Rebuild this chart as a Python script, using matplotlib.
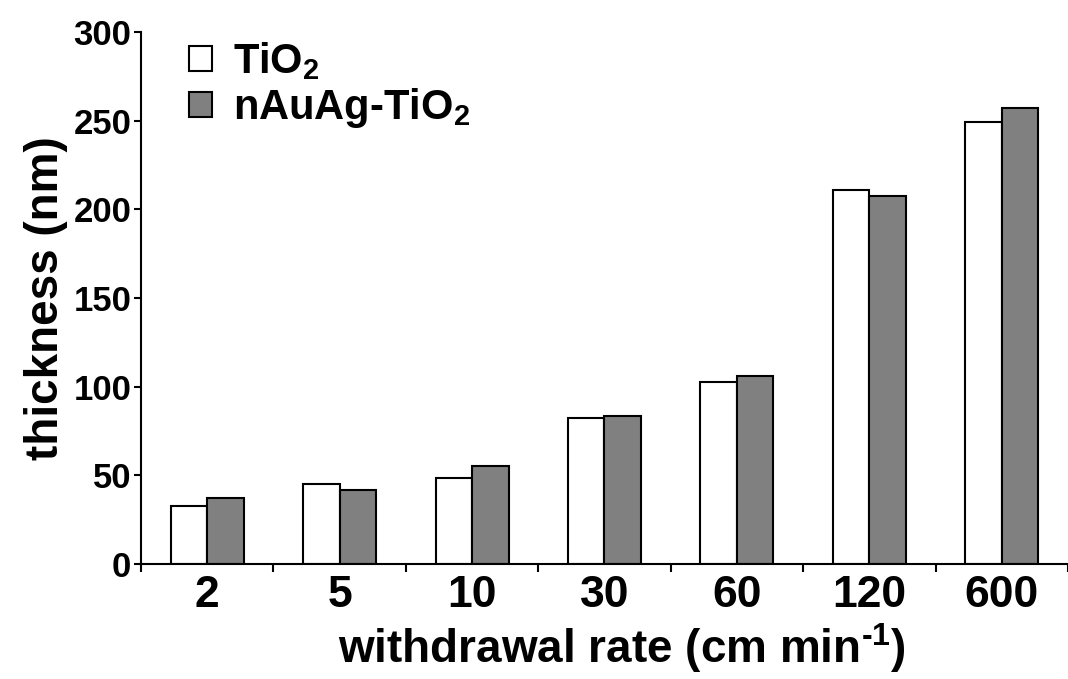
import numpy as np
import matplotlib
matplotlib.use("Agg")
import matplotlib.pyplot as plt

plt.rcParams['font.family'] = ['Liberation Sans', 'DejaVu Sans']
plt.rcParams['font.weight'] = 'bold'
plt.rcParams['axes.labelweight'] = 'bold'
plt.rcParams['mathtext.fontset'] = 'custom'
plt.rcParams['mathtext.rm'] = 'Liberation Sans:bold'
plt.rcParams['mathtext.bf'] = 'Liberation Sans:bold'
plt.rcParams['mathtext.default'] = 'rm'

# withdrawal rates (cm/min) and film thickness (nm)
rates = ['2', '5', '10', '30', '60', '120', '600']
tio2 = [32.7, 44.9, 48.3, 82.3, 102.5, 210.9, 249.4]
auag_tio2 = [37.0, 41.7, 55.1, 83.5, 106.0, 207.6, 257.2]

fig = plt.figure(figsize=(10.68, 6.79), dpi=100)
ax = fig.add_axes([0.132, 0.1694, 0.868, 0.7835])

x = np.arange(len(rates))
w = 0.276
ax.bar(x - w/2, tio2, w, color='white', edgecolor='black', linewidth=1.5, label='TiO$_2$')
ax.bar(x + w/2, auag_tio2, w, color='#808080', edgecolor='black', linewidth=1.5,
       label='nAuAg-TiO$_2$')

ax.set_xlim(-0.5, 6.42)
ax.set_ylim(0, 300)
ax.set_yticks(np.arange(0, 301, 50))
ax.set_xticks(x)
ax.set_xticklabels(rates)
ax.set_xticks(np.arange(-0.5, 7, 1), minor=True)

for s in ['top', 'right']:
    ax.spines[s].set_visible(False)
for s in ['left', 'bottom']:
    ax.spines[s].set_linewidth(1.5)

ax.tick_params(axis='y', which='major', length=5, width=1.5, labelsize=25, pad=2)
ax.tick_params(axis='x', which='major', length=0, labelsize=32, pad=8)
ax.tick_params(axis='x', which='minor', length=6, width=1.5)

ax.set_ylabel('thickness (nm)', fontsize=33, labelpad=4)
ax.set_xlabel(r'withdrawal rate (cm min$^{\text{-}1}$)', fontsize=33, labelpad=0)
ax.xaxis.set_label_coords(0.519, -0.108)

leg = ax.legend(loc='upper left', bbox_to_anchor=(0.052, 0.985), frameon=False,
                fontsize=30, handlelength=0.55, handleheight=0.55,
                handletextpad=0.5, labelspacing=0.1, borderpad=0, borderaxespad=0)

fig.savefig('out.png', dpi=100)
